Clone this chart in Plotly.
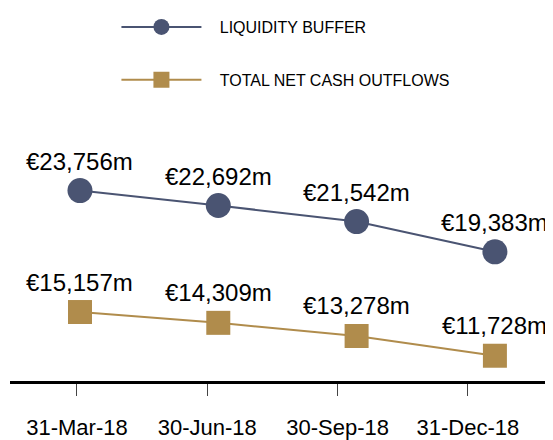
import plotly.graph_objects as go

dates = ["31-Mar-18", "30-Jun-18", "30-Sep-18", "31-Dec-18"]
liquidity_buffer = [23756, 22692, 21542, 19383]
net_cash_outflows = [15157, 14309, 13278, 11728]
series_names = ["LIQUIDITY BUFFER", "TOTAL NET CASH OUTFLOWS"]

NAVY = "#4a5472"
GOLD = "#b08c4c"
FONT = "Arial, Liberation Sans, sans-serif"
PAD = "\u00a0\u00a0\u00a0"

idx = list(range(len(dates)))

fig = go.Figure()
fig.add_trace(go.Scatter(
    x=idx, y=liquidity_buffer, name=PAD + series_names[0], mode="lines+markers",
    line=dict(color=NAVY, width=2), marker=dict(symbol="circle", size=25, color=NAVY),
    legendgroup="a", xaxis="x", yaxis="y"))
fig.add_trace(go.Scatter(
    x=idx, y=net_cash_outflows, name=PAD + series_names[1], mode="lines+markers",
    line=dict(color=GOLD, width=2), marker=dict(symbol="square", size=24, color=GOLD),
    legendgroup="b", xaxis="x", yaxis="y2"))

annotations = []
for i, v in enumerate(liquidity_buffer):
    annotations.append(dict(x=i, y=v, xref="x", yref="y", text=f"€{v:,}m", showarrow=False,
                            yshift=29, font=dict(size=24, color="black", family=FONT)))
for i, v in enumerate(net_cash_outflows):
    annotations.append(dict(x=i, y=v, xref="x", yref="y2", text=f"€{v:,}m", showarrow=False,
                            yshift=30, font=dict(size=24, color="black", family=FONT)))

fig.update_layout(
    width=553, height=440,
    margin=dict(l=2, r=8, t=92, b=67),
    paper_bgcolor="white", plot_bgcolor="white",
    font=dict(family=FONT, color="black"),
    showlegend=True,
    legend=dict(x=0.196, y=1.359, xanchor="left", yanchor="top", font=dict(size=16),
                traceorder="grouped", tracegroupgap=29, itemwidth=80, bgcolor="rgba(0,0,0,0)"),
    xaxis=dict(range=[-0.506, 3.42], showgrid=False, zeroline=False, showticklabels=False,
               ticks="", showline=False, fixedrange=True),
    xaxis2=dict(range=[-0.514, 3.653], overlaying="x", anchor="y", side="bottom",
                tickmode="array", tickvals=idx, ticktext=dates, showgrid=False, zeroline=False,
                ticks="outside", ticklen=12, tickwidth=1, tickcolor="#444",
                showline=True, linecolor="black", linewidth=3,
                tickfont=dict(size=22, color="black", family=FONT), ticklabelstandoff=13),
    yaxis=dict(range=[10154, 29655], visible=False),
    yaxis2=dict(range=[9746, 31164], overlaying="y", visible=False),
    annotations=annotations,
)
# invisible trace that activates the tick axis
fig.add_trace(go.Scatter(x=idx, y=liquidity_buffer, xaxis="x2", yaxis="y", mode="markers",
                         marker=dict(opacity=0), showlegend=False, hoverinfo="skip"))

fig.write_html("out.html")
